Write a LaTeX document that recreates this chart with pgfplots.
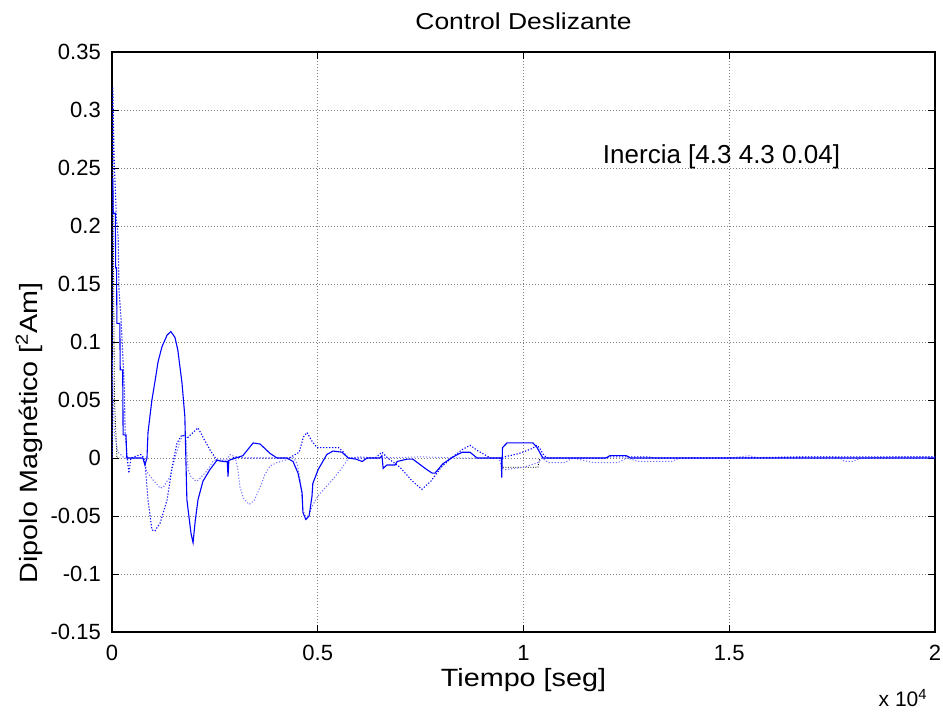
\documentclass[border=0pt]{standalone}
\usepackage{fontspec}
\setmainfont{Liberation Sans}
\newfontfamily\lblfont[FakeStretch=1.15]{Liberation Sans}
\usepackage{pgfplots}
\pgfplotsset{compat=1.18}
\begin{document}
\fontsize{20pt}{24pt}\selectfont
\begin{tikzpicture}
\useasboundingbox (-112pt,-83pt) rectangle (831pt,632pt);
\begin{axis}[
  scale only axis, width=823pt, height=580pt,
  xmin=0, xmax=2, ymin=-0.15, ymax=0.35,
  xtick={0,0.5,1,1.5,2}, xticklabels={0,0.5,1,1.5,2},
  ytick={-0.15,-0.1,-0.05,0,0.05,0.1,0.15,0.2,0.25,0.3,0.35},
  yticklabels={-0.15,-0.1,-0.05,0,0.05,0.1,0.15,0.2,0.25,0.3,0.35},
  tick align=inside, major tick length=7pt,
  tick style={black, line width=1pt},
  axis line style={line width=1.2pt},
  grid=major, grid style={dash pattern=on 1pt off 2pt, gray, line width=0.7pt},
  tick label style={font=\fontsize{22pt}{24pt}\selectfont},
  xticklabel style={anchor=base, yshift=-28pt},
  yticklabel style={anchor=east, inner sep=0pt, xshift=-11pt},
  title={Control Deslizante},
  title style={at={(0.5,1.0284)}, anchor=base, font=\lblfont\fontsize{23pt}{28pt}\selectfont},
  xlabel={Tiempo [seg]},
  xlabel style={at={(0.5,-0.0948)}, anchor=base, font=\lblfont\fontsize{25pt}{28pt}\selectfont},
  ylabel={Dipolo Magnético [\textsuperscript{2}Am]},
  ylabel style={at={(-0.0911,0.0724)}, anchor=base west, font=\lblfont\fontsize{25pt}{28pt}\selectfont},
  unbounded coords=jump,
  extra description/.code={
    \node[anchor=base, font=\fontsize{21pt}{24pt}\selectfont] at (0.961,-0.1293) {x 10\textsuperscript{4}};
    \node[anchor=base, font=\fontsize{26pt}{30pt}\selectfont] at (0.7406,0.8086) {Inercia [4.3 4.3 0.04]};
  },
]
% black dotted
\addplot[black, line width=0.8pt, dash pattern=on 1pt off 1.5pt] coordinates {
(0,0) (0.001,0.335) (0.003,0.2) (0.006,0.05) (0.012,0) (0.02,0)
(0.03,nan)
(0.946,0) (0.948,-0.008) (1.035,-0.008) (1.04,0)
};
% light blue dotted (C)
\addplot[blue!55, line width=1pt, dash pattern=on 1.2pt off 1.8pt] coordinates {
(0,0) (0.001,0.085) (0.003,0.05) (0.006,0.02) (0.015,0.005) (0.03,0) (0.075,0)
(0.080,-0.004) (0.085,-0.012) (0.1,-0.019) (0.117,-0.026) (0.125,-0.025) (0.141,-0.016)
(0.153,0) (0.165,0.014) (0.172,0.020) (0.178,0.019) (0.18,0.015) (0.185,-0.01)
(0.192,-0.016) (0.204,-0.020) (0.21,-0.019) (0.231,-0.011) (0.245,-0.003) (0.255,-0.001)
(0.28,-0.001) (0.287,0.003) (0.299,0.001) (0.306,-0.01) (0.311,-0.025) (0.32,-0.035)
(0.333,-0.04) (0.345,-0.037) (0.36,-0.025) (0.372,-0.014) (0.384,-0.007) (0.40,-0.004)
(0.42,-0.002) (0.44,0.001) (0.45,-0.005) (0.458,-0.02) (0.464,-0.045) (0.470,-0.05)
(0.478,-0.05) (0.486,-0.042) (0.50,-0.033) (0.52,-0.025) (0.54,-0.017) (0.56,-0.008)
(0.575,0) (0.6,0.001) (0.65,0) (0.75,0.001) (0.85,0) (0.94,0) (0.948,-0.009)
(0.955,-0.010) (1.0,-0.008) (1.035,-0.004) (1.045,0) (1.06,-0.004) (1.1,-0.004)
(1.12,0) (1.17,-0.004) (1.23,-0.004) (1.25,0) (1.28,-0.003) (1.36,-0.003) (1.38,0)
(1.5,0) (1.55,0.002) (1.57,0) (1.66,0.001) (1.75,0.001) (1.77,0) (1.78,-0.003)
(1.80,-0.003) (1.82,0) (1.92,0.001) (2,0.001)
};
% blue dotted (B)
\addplot[blue, line width=1.1pt, dash pattern=on 1.2pt off 1.8pt] coordinates {
(0,0) (0.002,0.32) (0.005,0.26) (0.011,0.205) (0.015,0.19) (0.017,0.145) (0.022,0.12)
(0.03,0.06) (0.032,0.022) (0.037,0) (0.041,-0.013) (0.046,0) (0.07,0.003) (0.078,0)
(0.080,-0.004) (0.0875,-0.036) (0.097,-0.062) (0.104,-0.063) (0.117,-0.056)
(0.134,-0.036) (0.146,-0.008) (0.158,0.013) (0.170,0.020) (0.182,0.017) (0.197,0.022)
(0.209,0.026) (0.221,0.018) (0.238,0.007) (0.255,-0.002) (0.28,-0.003) (0.299,0.001)
(0.32,0) (0.38,0) (0.43,0) (0.455,0.005) (0.465,0.018) (0.474,0.022) (0.485,0.015)
(0.498,0.009) (0.55,0.009) (0.56,0.006) (0.574,0) (0.64,0) (0.656,0.005) (0.67,0)
(0.70,-0.008) (0.73,-0.020) (0.753,-0.027) (0.775,-0.020) (0.80,-0.008) (0.825,0)
(0.85,0.007) (0.87,0.011) (0.89,0.006) (0.92,0) (0.95,0) (0.955,0.001) (0.99,0.004)
(1.02,0.008) (1.033,0.011) (1.04,0.008) (1.05,0.002) (1.06,0) (1.2,0) (1.21,0.001)
(1.3,0.001) (1.32,0) (1.5,0) (1.7,0.001) (1.9,0.001) (2,0.001)
};
% solid blue (A)
\addplot[blue, line width=1.1pt] coordinates {
(0,0.24) (0.002,0.24) (0.003,0.211) (0.008,0.211) (0.009,0.164) (0.011,0.164)
(0.012,0.116) (0.019,0.116) (0.02,0.076) (0.026,0.076) (0.027,0.02) (0.034,0.02)
(0.036,0) (0.075,0) (0.08,-0.006) (0.085,0) (0.0875,0.022) (0.097,0.05) (0.104,0.065)
(0.112,0.083) (0.1215,0.096) (0.134,0.106) (0.143,0.109) (0.153,0.104) (0.160,0.093)
(0.170,0.065) (0.177,0.036) (0.182,-0.036) (0.192,-0.065) (0.197,-0.073) (0.202,-0.055)
(0.209,-0.036) (0.221,-0.02) (0.238,-0.01) (0.255,-0.002) (0.27,-0.003) (0.28,-0.003)
(0.282,-0.016) (0.284,-0.002) (0.318,0.002) (0.343,0.013) (0.36,0.012) (0.384,0.004)
(0.401,0) (0.425,0) (0.44,-0.003) (0.452,-0.013) (0.462,-0.030) (0.464,-0.047)
(0.471,-0.053) (0.479,-0.050) (0.486,-0.033) (0.488,-0.022) (0.501,-0.010)
(0.522,0.003) (0.537,0.006) (0.559,0.005) (0.574,0) (0.593,-0.001) (0.608,-0.003)
(0.620,0) (0.651,0) (0.656,0.002) (0.659,-0.009) (0.668,-0.006) (0.688,-0.006)
(0.693,-0.003) (0.717,-0.001) (0.731,-0.001) (0.765,-0.010) (0.778,-0.013)
(0.785,-0.013) (0.804,-0.005) (0.829,0.001) (0.851,0.005) (0.870,0.005) (0.887,0)
(0.946,0) (0.947,-0.017) (0.949,0.009) (0.96,0.013) (1.023,0.013) (1.033,0.009)
(1.047,0) (1.2,0) (1.21,0.002) (1.25,0.002) (1.26,0) (2,0)
};
\end{axis}
\end{tikzpicture}
\end{document}
